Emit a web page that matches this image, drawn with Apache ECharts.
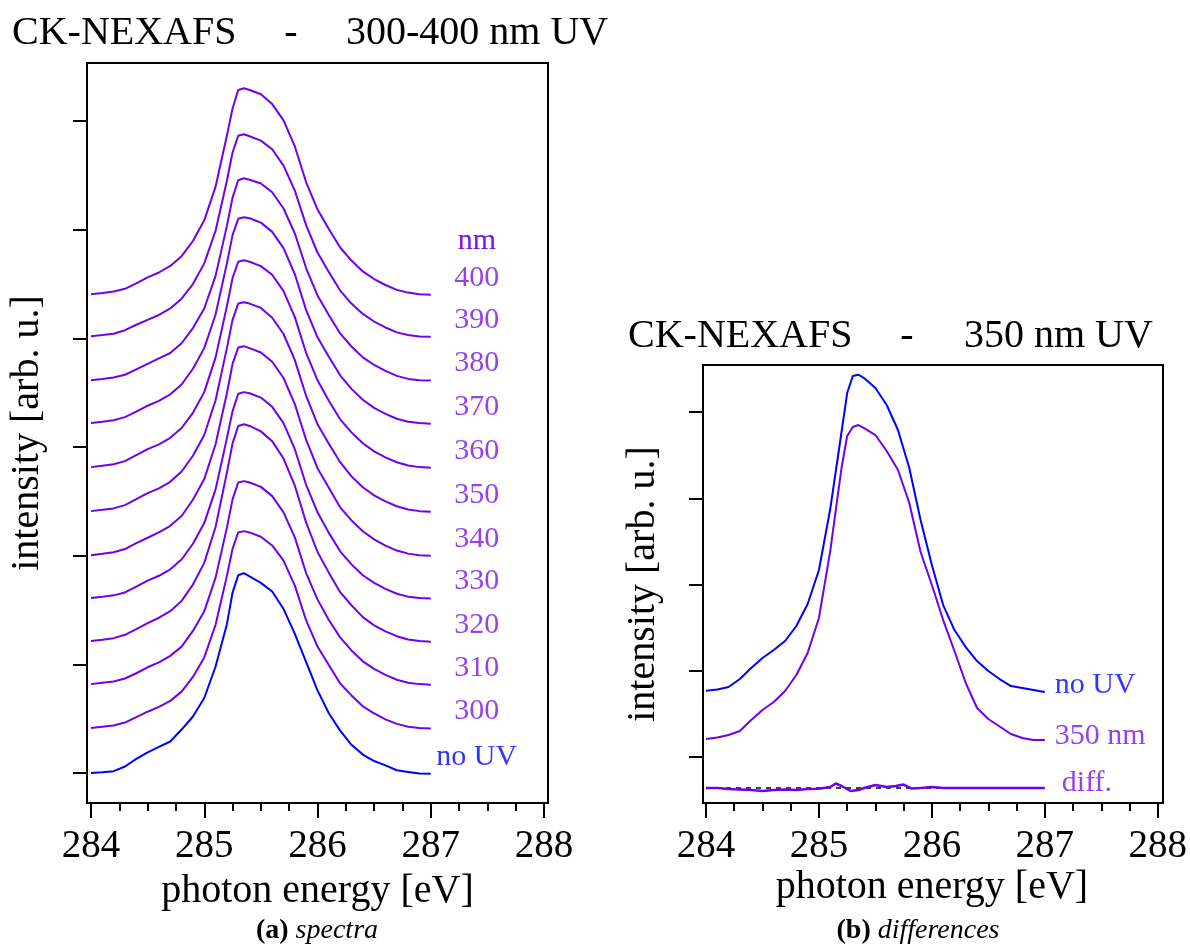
<!DOCTYPE html>
<html>
<head>
<meta charset="utf-8">
<script src="https://cdn.jsdelivr.net/npm/echarts@6/dist/echarts.min.js"></script>
<style>
  html, body { margin: 0; padding: 0; background: #fff; }
  #chart { width: 1190px; height: 947px; }
</style>
</head>
<body>
<div id="chart"></div>
<script>
// Photon energies shared by all spectra [eV]
const energies = [284.0, 284.1, 284.2, 284.3, 284.4, 284.5, 284.6, 284.7, 284.8, 284.9,
  285.0, 285.1, 285.2, 285.25, 285.3, 285.35, 285.4, 285.5, 285.6, 285.7, 285.8, 285.9,
  286.0, 286.1, 286.2, 286.3, 286.4, 286.5, 286.6, 286.7, 286.8, 286.9, 287.0];

// (a) C K-edge spectra, each relative to its own baseline [arb. u.]
const specNoUV = [0.00, 0.008, 0.017, 0.06, 0.13, 0.19, 0.24, 0.29, 0.40, 0.52, 0.69, 0.98, 1.37, 1.66, 1.82, 1.84, 1.81, 1.75, 1.67, 1.51, 1.28, 1.02, 0.76, 0.55, 0.39, 0.26, 0.17, 0.11, 0.07, 0.025, 0.01, -0.005, -0.006];
const spec300 = [0.00, 0.011, 0.023, 0.05, 0.10, 0.15, 0.195, 0.25, 0.335, 0.47, 0.65, 0.95, 1.40, 1.65, 1.80, 1.812, 1.80, 1.76, 1.68, 1.54, 1.31, 0.99, 0.75, 0.58, 0.41, 0.30, 0.20, 0.135, 0.08, 0.038, 0.012, 0.00, -0.005];
const spec310 = [0.00, 0.012, 0.024, 0.052, 0.10, 0.155, 0.20, 0.26, 0.345, 0.49, 0.67, 0.98, 1.44, 1.70, 1.855, 1.868, 1.855, 1.815, 1.73, 1.58, 1.35, 1.02, 0.78, 0.59, 0.43, 0.31, 0.21, 0.14, 0.085, 0.04, 0.013, 0.00, -0.005];
const spec320 = [0.00, 0.013, 0.027, 0.058, 0.11, 0.165, 0.215, 0.275, 0.37, 0.52, 0.72, 1.05, 1.55, 1.82, 1.98, 1.996, 1.98, 1.93, 1.84, 1.68, 1.43, 1.09, 0.82, 0.63, 0.45, 0.33, 0.22, 0.145, 0.09, 0.045, 0.015, 0.00, -0.005];
const spec330 = [0.00, 0.012, 0.025, 0.052, 0.105, 0.16, 0.205, 0.265, 0.355, 0.50, 0.69, 1.00, 1.47, 1.72, 1.88, 1.895, 1.885, 1.845, 1.76, 1.61, 1.37, 1.04, 0.79, 0.60, 0.43, 0.31, 0.21, 0.14, 0.085, 0.04, 0.013, 0.00, -0.005];
const spec340 = [0.00, 0.012, 0.027, 0.056, 0.11, 0.16, 0.21, 0.27, 0.36, 0.51, 0.70, 1.02, 1.49, 1.76, 1.91, 1.923, 1.905, 1.865, 1.78, 1.63, 1.39, 1.06, 0.80, 0.62, 0.44, 0.32, 0.22, 0.145, 0.088, 0.042, 0.014, 0.00, -0.005];
const spec350 = [0.00, 0.012, 0.025, 0.055, 0.11, 0.165, 0.21, 0.27, 0.365, 0.51, 0.70, 1.02, 1.50, 1.76, 1.91, 1.923, 1.91, 1.87, 1.78, 1.63, 1.39, 1.06, 0.80, 0.62, 0.45, 0.32, 0.22, 0.145, 0.09, 0.045, 0.015, 0.00, -0.005];
const spec360 = [0.00, 0.013, 0.026, 0.055, 0.11, 0.165, 0.21, 0.27, 0.36, 0.50, 0.69, 1.01, 1.48, 1.74, 1.89, 1.904, 1.89, 1.85, 1.77, 1.62, 1.38, 1.05, 0.80, 0.61, 0.44, 0.32, 0.22, 0.145, 0.09, 0.045, 0.015, 0.00, -0.005];
const spec370 = [0.00, 0.012, 0.026, 0.055, 0.105, 0.16, 0.205, 0.265, 0.355, 0.50, 0.69, 1.00, 1.47, 1.73, 1.88, 1.895, 1.885, 1.845, 1.76, 1.61, 1.37, 1.04, 0.79, 0.61, 0.44, 0.315, 0.215, 0.14, 0.085, 0.04, 0.013, 0.00, -0.005];
const spec380 = [0.00, 0.011, 0.024, 0.05, 0.10, 0.15, 0.20, 0.25, 0.34, 0.48, 0.66, 0.96, 1.42, 1.68, 1.84, 1.858, 1.845, 1.81, 1.73, 1.58, 1.35, 1.03, 0.78, 0.60, 0.43, 0.31, 0.21, 0.14, 0.085, 0.04, 0.012, 0.00, -0.004];
const spec390 = [0.00, 0.010, 0.022, 0.055, 0.105, 0.15, 0.195, 0.255, 0.345, 0.48, 0.67, 0.97, 1.43, 1.69, 1.845, 1.858, 1.84, 1.80, 1.72, 1.57, 1.34, 1.02, 0.77, 0.59, 0.42, 0.30, 0.205, 0.135, 0.08, 0.035, 0.01, -0.003, -0.005];
const spec400 = [0.00, 0.012, 0.025, 0.05, 0.10, 0.155, 0.20, 0.26, 0.35, 0.49, 0.68, 0.99, 1.46, 1.71, 1.88, 1.895, 1.88, 1.84, 1.75, 1.60, 1.36, 1.03, 0.78, 0.60, 0.43, 0.31, 0.21, 0.14, 0.085, 0.04, 0.015, 0.00, -0.005];

// Labels and vertical stacking offsets of the spectra [arb. u.]
const spectraLabels = ['no UV', '300', '310', '320', '330', '340', '350', '360', '370', '380', '390', '400'];
const spectraOffsets = [0, 0.414, 0.818, 1.214, 1.61, 2.005, 2.41, 2.815, 3.22, 3.615, 4.02, 4.406];
const spectraTicks = [0, 1, 2, 3, 4, 5, 6];

// (b) comparison of no UV and 350 nm spectra and their difference [arb. u.]
const compNoUV = [0.769, 0.783, 0.812, 0.905, 1.032, 1.148, 1.241, 1.345, 1.519, 1.774, 2.168, 2.875, 3.768, 4.220, 4.417, 4.432, 4.394, 4.278, 4.081, 3.791, 3.351, 2.748, 2.226, 1.762, 1.472, 1.275, 1.113, 0.997, 0.904, 0.823, 0.800, 0.777, 0.754];
const comp350 = [0.209, 0.226, 0.255, 0.302, 0.429, 0.545, 0.638, 0.765, 0.951, 1.206, 1.612, 2.388, 3.351, 3.722, 3.826, 3.849, 3.814, 3.733, 3.548, 3.328, 2.945, 2.377, 1.994, 1.588, 1.229, 0.858, 0.568, 0.441, 0.354, 0.267, 0.220, 0.197, 0.197];
const diffEnergies = [284.0, 284.1, 284.2, 284.3, 284.4, 284.5, 284.6, 284.7, 284.8, 284.9, 285.0, 285.1, 285.15, 285.2, 285.28, 285.35, 285.4, 285.5, 285.6, 285.68, 285.75, 285.82, 285.9, 286.0, 286.1, 286.2, 286.4, 286.6, 286.8, 287.0];
const diffValues = [-0.359, -0.359, -0.371, -0.377, -0.383, -0.394, -0.383, -0.377, -0.383, -0.371, -0.368, -0.348, -0.307, -0.336, -0.394, -0.383, -0.359, -0.325, -0.348, -0.336, -0.319, -0.365, -0.359, -0.348, -0.359, -0.359, -0.359, -0.359, -0.359, -0.359];
const diffZero = -0.36;
const compLabels = ['no UV', '350 nm', 'diff.'];
const compTicks = [0, 1, 2, 3, 4];

const PURPLE = '#7000EE';
const LABEL_PURPLE = '#7A12EA';
const BLUE = '#0000FF';
const SERIF = "'Liberation Serif', 'Times New Roman', serif";

const spectraCurves = [specNoUV, spec300, spec310, spec320, spec330, spec340, spec350, spec360, spec370, spec380, spec390, spec400];
const last = energies.length - 1;

const series = [];

// stacked spectra, panel (a)
spectraCurves.forEach((curve, k) => {
  series.push({
    type: 'line', xAxisIndex: 1, yAxisIndex: 1,
    symbol: 'none', animation: false, silent: true,
    lineStyle: { width: 2, color: k === 0 ? BLUE : PURPLE },
    data: energies.map((e, i) => [e, curve[i] + spectraOffsets[k]])
  });
});

// wavelength labels at the right end of each spectrum
series.push({
  type: 'scatter', xAxisIndex: 1, yAxisIndex: 1, silent: true, animation: false,
  symbol: 'circle', symbolSize: 1, itemStyle: { color: 'rgba(0,0,0,0)' },
  label: {
    show: true, position: 'inside', offset: [46, -17], align: 'center', verticalAlign: 'middle',
    fontSize: 30, fontFamily: SERIF, formatter: p => p.name
  },
  data: spectraCurves.map((c, k) => ({
    name: spectraLabels[k],
    value: [energies[last], c[last] + spectraOffsets[k]],
    label: { color: k === 0 ? BLUE : LABEL_PURPLE }
  }))
});

// panel (b): zero line of the difference, difference, and both spectra
series.push({
  type: 'line', xAxisIndex: 3, yAxisIndex: 3, symbol: 'none', animation: false, silent: true,
  lineStyle: { width: 1.5, color: '#000', type: [5, 5] },
  data: [[diffEnergies[0], diffZero], [diffEnergies[diffEnergies.length - 1], diffZero]]
});
series.push({
  type: 'line', xAxisIndex: 3, yAxisIndex: 3, symbol: 'none', animation: false, silent: true,
  lineStyle: { width: 2.5, color: PURPLE },
  data: diffEnergies.map((e, i) => [e, diffValues[i]])
});
series.push({
  type: 'line', xAxisIndex: 3, yAxisIndex: 3, symbol: 'none', animation: false, silent: true,
  lineStyle: { width: 2, color: BLUE },
  data: energies.map((e, i) => [e, compNoUV[i]])
});
series.push({
  type: 'line', xAxisIndex: 3, yAxisIndex: 3, symbol: 'none', animation: false, silent: true,
  lineStyle: { width: 2, color: PURPLE },
  data: energies.map((e, i) => [e, comp350[i]])
});

const compEnds = [
  [energies[last], compNoUV[last]],
  [energies[last], comp350[last]],
  [diffEnergies[diffEnergies.length - 1], diffValues[diffValues.length - 1]]
];
const compLabelOffsets = [[10, -7], [10, -4], [17, -5]];
series.push({
  type: 'scatter', xAxisIndex: 3, yAxisIndex: 3, silent: true, animation: false,
  symbol: 'circle', symbolSize: 1, itemStyle: { color: 'rgba(0,0,0,0)' },
  label: {
    show: true, position: 'inside', align: 'left', verticalAlign: 'middle',
    fontSize: 30, fontFamily: SERIF, formatter: p => p.name
  },
  data: compEnds.map((v, k) => ({
    name: compLabels[k], value: v,
    label: { color: k === 0 ? BLUE : LABEL_PURPLE, offset: compLabelOffsets[k] }
  }))
});

const tickStyle = { color: '#000', width: 2 };
const axisText = { color: '#000', fontSize: 39, fontFamily: SERIF };
const nameText = { color: '#000', fontSize: 40, fontFamily: SERIF };

function energyAxis(gridIndex) {
  return {
    gridIndex, type: 'value', min: 284, max: 288, interval: 1,
    axisLine: { show: false, onZero: false },
    axisTick: { show: true, inside: false, length: 15, lineStyle: tickStyle },
    minorTick: { show: true, splitNumber: 4, length: 8, lineStyle: tickStyle },
    splitLine: { show: false }, minorSplitLine: { show: false },
    axisLabel: Object.assign({ margin: 44, verticalAlign: 'middle' }, axisText),
    name: 'photon energy [eV]', nameLocation: 'middle', nameGap: 60, nameTextStyle: nameText
  };
}
function intensityAxis(gridIndex, min, max, ticks, offset) {
  return {
    gridIndex, type: 'value', min, max, offset,
    axisLine: { show: false, onZero: false },
    axisTick: { show: true, inside: false, length: 14, customValues: ticks, lineStyle: tickStyle },
    axisLabel: { show: false },
    splitLine: { show: false },
    name: 'intensity [arb. u.]', nameLocation: 'middle', nameGap: 40, nameTextStyle: nameText
  };
}
const hiddenAxis = gridIndex => ({ gridIndex, type: 'value', show: false, min: 0, max: 1 });

function txt(text, x, y, size, color, align) {
  return {
    type: 'text', x, y, silent: true,
    style: {
      text, fill: color || '#000', font: 'normal ' + size + 'px ' + SERIF,
      textAlign: align || 'left', textVerticalAlign: 'middle', align: align || 'left', verticalAlign: 'middle'
    }
  };
}
function caption(tag, word, x, y) {
  return {
    type: 'text', x, y, silent: true,
    style: {
      text: '{b|' + tag + '} {i|' + word + '}',
      textAlign: 'center', align: 'center', textVerticalAlign: 'middle', verticalAlign: 'middle',
      font: 'normal 28px ' + SERIF, fill: '#000',
      rich: {
        b: { fontWeight: 'bold', fontSize: 28, fontFamily: SERIF, fill: '#000', color: '#000' },
        i: { fontStyle: 'italic', fontSize: 28, fontFamily: SERIF, fill: '#000', color: '#000' }
      }
    }
  };
}

const chart = echarts.init(document.getElementById('chart'), null, { renderer: 'canvas' });
chart.setOption({
  backgroundColor: '#fff',
  animation: false,
  grid: [
    { left: 87, top: 63, width: 461, height: 740, show: true, borderColor: '#000', borderWidth: 2, backgroundColor: 'transparent' },
    { left: 91, top: 63, width: 453, height: 740 },
    { left: 703, top: 365, width: 460, height: 438, show: true, borderColor: '#000', borderWidth: 2, backgroundColor: 'transparent' },
    { left: 706, top: 365, width: 453.5, height: 438 }
  ],
  xAxis: [hiddenAxis(0), energyAxis(1), hiddenAxis(2), energyAxis(3)],
  yAxis: [
    hiddenAxis(0),
    intensityAxis(1, -0.276, 6.534, spectraTicks, 4),
    hiddenAxis(2),
    intensityAxis(3, -0.533, 4.545, compTicks, 3)
  ],
  series,
  graphic: [
    txt('CK-NEXAFS', 12, 33, 40),
    txt('-', 291, 33, 40, '#000', 'center'),
    txt('300-400 nm UV', 346, 33, 40),
    txt('nm', 477, 241, 30, LABEL_PURPLE, 'center'),
    txt('CK-NEXAFS', 628, 336, 40),
    txt('-', 907, 336, 40, '#000', 'center'),
    txt('350 nm UV', 964, 336, 40),
    caption('(a)', 'spectra', 317, 931),
    caption('(b)', 'differences', 918, 931)
  ]
});
</script>
</body>
</html>
